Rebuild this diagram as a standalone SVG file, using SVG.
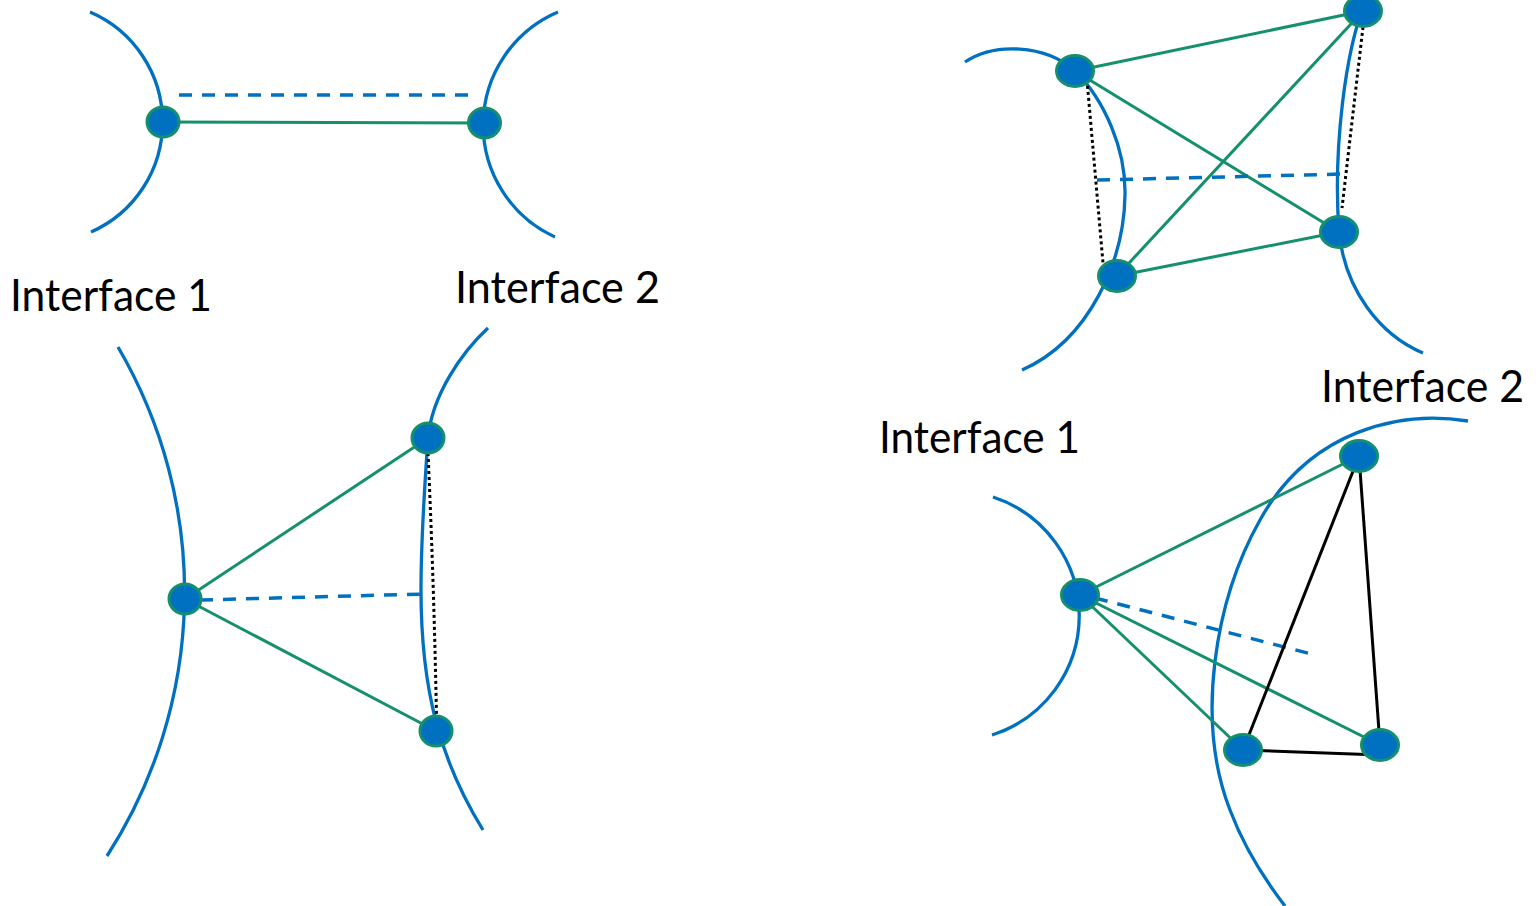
<svg xmlns="http://www.w3.org/2000/svg" width="1538" height="906" viewBox="0 0 1538 906">
<style>
.iface{fill:none;stroke:#0070C0;stroke-width:3.3}
.g{stroke:#14906C;stroke-width:3;fill:none}
.k{stroke:#000;stroke-width:3;fill:none}
.dash{stroke:#0070C0;stroke-width:3.5;stroke-dasharray:13 10;fill:none}
.dot{stroke:#000;stroke-width:3;stroke-dasharray:3 3;fill:none}
.node{fill:#0070C0;stroke:#14906C;stroke-width:3}
.lbl{font-family:Lato,"Open Sans","Liberation Sans",sans-serif;font-size:45px;fill:#000}
</style>
<rect width="1538" height="906" fill="#fff"/>
<g id="interfaces">
<path class="iface" d="M90,12 A120,120 0 0 1 91,232"/>
<path class="iface" d="M558,12 A123,123 0 0 0 555,237"/>
<path class="iface" d="M118,347 A486,486 0 0 1 107,856"/>
<path class="iface" d="M488,328 C462,352 432,395 428,438 C425,480 421,540 421,590 C421,690 440,760 483,830"/>
<path class="iface" d="M965,62 C995,42 1045,45 1074,70 C1105,100 1126,150 1125,195 C1124,260 1090,340 1022,370"/>
<path class="iface" d="M1366,0 C1345,50 1333,150 1339,232 C1345,290 1380,335 1423,353"/>
<path class="iface" d="M993,497 A125,125 0 0 1 992,735"/>
<path class="iface" d="M1468,421 C1400,410 1310,430 1260,520 C1215,600 1195,720 1230,810 C1245,850 1265,880 1285,906"/>
</g>
<g id="labels">
<text class="lbl" x="10" y="311" textLength="202" lengthAdjust="spacingAndGlyphs">Interface 1</text>
<text class="lbl" x="455" y="303" textLength="205" lengthAdjust="spacingAndGlyphs">Interface 2</text>
<text class="lbl" x="879" y="453" textLength="201" lengthAdjust="spacingAndGlyphs">Interface 1</text>
<text class="lbl" x="1321" y="402" textLength="203" lengthAdjust="spacingAndGlyphs">Interface 2</text>
</g>
<g id="connectors">
<line class="dash" x1="179" y1="95" x2="470" y2="95"/>
<line class="g" x1="163" y1="122" x2="484" y2="123"/>
<line class="g" x1="185" y1="599" x2="428" y2="438"/>
<line class="g" x1="185" y1="599" x2="436" y2="731"/>
<path class="dash" d="M200,600 L425,594"/>
<path class="dot" d="M428,453 Q434,585 436.5,717"/>
<line class="g" x1="1075" y1="71" x2="1363" y2="11"/>
<line class="g" x1="1075" y1="71" x2="1339" y2="232"/>
<line class="g" x1="1117" y1="276" x2="1363" y2="11"/>
<line class="g" x1="1117" y1="276" x2="1339" y2="232"/>
<path class="dash" d="M1097,180 L1345,174"/>
<path class="dot" d="M1087,80 L1103,263"/>
<path class="dot" d="M1363,27 L1342,208"/>
<line class="g" x1="1080" y1="595" x2="1359" y2="456"/>
<line class="g" x1="1080" y1="595" x2="1243" y2="750"/>
<line class="g" x1="1080" y1="595" x2="1380" y2="745"/>
<path class="dash" d="M1095,598 L1315,655"/>
<line class="k" x1="1359" y1="456" x2="1243" y2="750"/>
<line class="k" x1="1359" y1="456" x2="1380" y2="745"/>
<line class="k" x1="1243" y1="750" x2="1380" y2="755"/>
</g>
<g id="p1-n1"><ellipse class="node" cx="163" cy="122" rx="16" ry="15"/></g>
<g id="p1-n2"><ellipse class="node" cx="484.5" cy="123" rx="16" ry="15"/></g>
<g id="p2-a"><ellipse class="node" cx="185" cy="599" rx="16" ry="15"/></g>
<g id="p2-b"><ellipse class="node" cx="428" cy="438" rx="16" ry="15"/></g>
<g id="p2-c"><ellipse class="node" cx="436" cy="731" rx="16" ry="15"/></g>
<g id="p3-n1"><ellipse class="node" cx="1075" cy="71" rx="18.5" ry="15.5"/></g>
<g id="p3-n2"><ellipse class="node" cx="1363" cy="11" rx="18.5" ry="15.5"/></g>
<g id="p3-n3"><ellipse class="node" cx="1339" cy="232" rx="18.5" ry="15.5"/></g>
<g id="p3-n4"><ellipse class="node" cx="1117" cy="276" rx="18.5" ry="15.5"/></g>
<g id="p4-p1"><ellipse class="node" cx="1080" cy="595" rx="18.5" ry="15.5"/></g>
<g id="p4-q1"><ellipse class="node" cx="1359" cy="456" rx="18.5" ry="15.5"/></g>
<g id="p4-q2"><ellipse class="node" cx="1243" cy="750" rx="18.5" ry="15.5"/></g>
<g id="p4-q3"><ellipse class="node" cx="1380" cy="745" rx="18.5" ry="15.5"/></g>
</svg>
